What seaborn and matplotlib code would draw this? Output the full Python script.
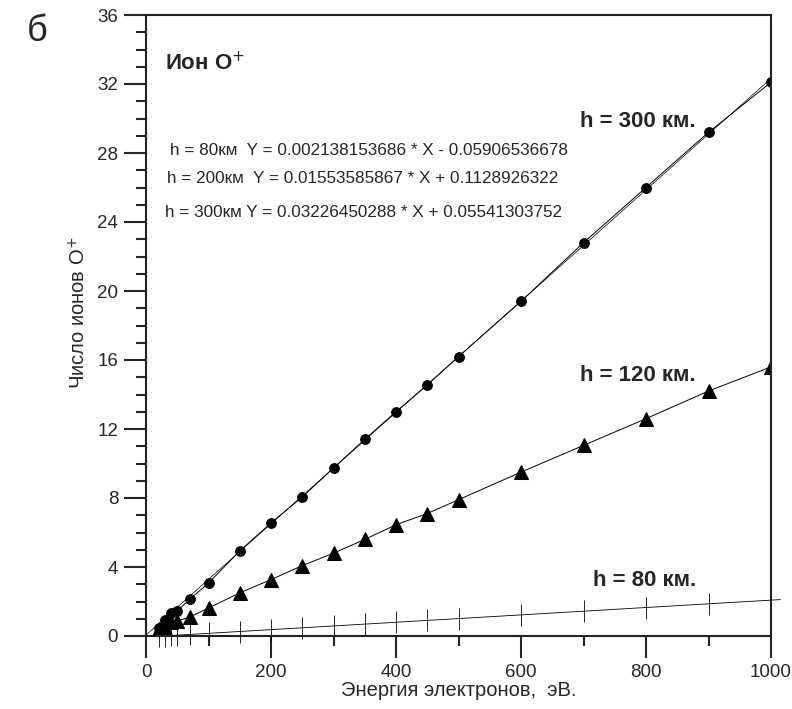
import numpy as np
import pandas as pd
import matplotlib
matplotlib.use("Agg")
import matplotlib.pyplot as plt
from matplotlib.ticker import MultipleLocator
import seaborn as sns

# energy of electrons, eV
energy = [20, 30, 40, 50, 70, 100, 150, 200, 250, 300, 350, 400, 450, 500,
          600, 700, 800, 900, 1000]

# number of O+ ions
ions_300 = [0.45, 0.93, 1.35, 1.45, 2.13, 3.07, 4.93, 6.55, 8.06, 9.74,
            11.4, 13.0, 14.55, 16.2, 19.4, 22.8, 26.0, 29.2, 32.1]
ions_120 = [0.42, 0.48, 0.8, 0.87, 1.1, 1.62, 2.5, 3.27, 4.08, 4.8,
            5.6, 6.45, 7.1, 7.9, 9.5, 11.05, 12.6, 14.2, 15.6]
ions_80 = [-0.02, 0.0, 0.03, 0.05, 0.09, 0.15, 0.26, 0.37, 0.48, 0.58,
           0.69, 0.8, 0.9, 1.01, 1.22, 1.44, 1.65, 1.87, 2.08]

# regression coefficients printed on the chart
fit_80 = (0.002138153686, -0.05906536678)
fit_300 = (0.03226450288, 0.05541303752)
fit_x80 = [26, 1015]
fit_x300 = [0, 1000]

eq_lines = [
    "h = 80км  Y = 0.002138153686 * X - 0.05906536678",
    "h = 200км  Y = 0.01553585867 * X + 0.1128926322",
    "h = 300км Y = 0.03226450288 * X + 0.05541303752",
]

df = pd.DataFrame({"energy": energy, "h300": ions_300, "h120": ions_120, "h80": ions_80})

sns.set_style("ticks")
plt.rcParams["font.family"] = ["Liberation Sans", "DejaVu Sans"]

fig = plt.figure(figsize=(7.92, 7.09), dpi=100)
ax = fig.add_axes([146 / 792, 1 - 636 / 709, 625 / 792, 621 / 709])

# h = 300 km
sns.lineplot(data=df, x="energy", y="h300", ax=ax, color="black", lw=0.7,
             marker="o", markersize=7, markeredgecolor="black")
ax.plot(fit_x300, [fit_300[0] * v + fit_300[1] for v in fit_x300],
        color="black", lw=0.5)

# h = 120 km
sns.lineplot(data=df, x="energy", y="h120", ax=ax, color="black", lw=0.7,
             marker="^", markersize=10.5, markeredgecolor="black")

# h = 80 km
ax.plot(fit_x80, [fit_80[0] * v + fit_80[1] for v in fit_x80],
        color="black", lw=0.6, clip_on=False)
ax.plot(df["energy"], df["h80"], ls="none", marker="|", markersize=16,
        mew=0.6, color="black", clip_on=False)

ax.set_xlim(0, 1000)
ax.set_ylim(0, 36)
ax.xaxis.set_major_locator(MultipleLocator(200))
ax.xaxis.set_minor_locator(MultipleLocator(100))
ax.yaxis.set_major_locator(MultipleLocator(4))
ax.yaxis.set_minor_locator(MultipleLocator(1))
ax.tick_params(which="major", length=16, width=1.5, labelsize=13.5, pad=4)
ax.tick_params(which="minor", length=7, width=1.5)
for s in ax.spines.values():
    s.set_visible(True)
    s.set_linewidth(1.5)
    s.set_color("#222222")

ax.set_xlabel("Энергия электронов,  эВ.", fontsize=14.5, labelpad=0)
ax.set_ylabel("Число ионов O$^{+}$", fontsize=14.5)
ax.yaxis.set_label_coords(-0.09, 0.52)

ax.text(0.031, 0.912, "Ион O$^{+}$", transform=ax.transAxes, fontsize=16,
        fontweight="bold")
for i, t in enumerate(eq_lines):
    ax.text([0.038, 0.034, 0.03][i], [0.775, 0.73, 0.675][i], t,
            transform=ax.transAxes, fontsize=12.3)

ax.text(0.694, 0.82, "h = 300 км.", transform=ax.transAxes, fontsize=16,
        fontweight="bold")
ax.text(0.694, 0.41, "h = 120 км.", transform=ax.transAxes, fontsize=16,
        fontweight="bold")
ax.text(0.715, 0.081, "h = 80 км.", transform=ax.transAxes, fontsize=16,
        fontweight="bold")

fig.text(27 / 792, 1 - 41 / 709, "б", fontsize=26)

fig.savefig("out.png", dpi=100)
